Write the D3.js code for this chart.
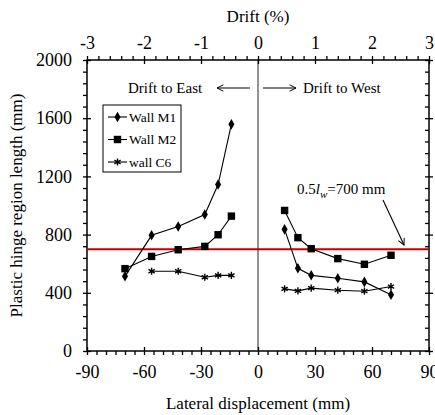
<!DOCTYPE html>
<html>
<head>
<meta charset="utf-8">
<script src="https://cdn.jsdelivr.net/npm/d3@7"></script>
<style>
  body { margin: 0; background: #fff; }
  text { font-family: "Liberation Serif", "Times New Roman", serif; fill: #000; }
</style>
</head>
<body>
<div id="chart"></div>
<script>
// displacement positions (mm)
var eastDisp = [-70, -56, -42, -28, -21, -14];
var westDisp = [14, 21, 28, 42, 56, 70];

// plastic hinge length (mm)
var m1East = [513, 795, 856, 938, 1144, 1559];
var m1West = [836, 568, 520, 500, 475, 386];
var m2East = [566, 650, 696, 719, 799, 927];
var m2West = [966, 779, 703, 635, 596, 658];
var c6EastDisp = [-56, -42, -28, -21, -14];
var c6East = [548, 548, 507, 520, 520];
var c6West = [427, 413, 432, 418, 411, 443];

var xTicks = [-90, -60, -30, 0, 30, 60, 90];
var yTicks = [0, 400, 800, 1200, 1600, 2000];
var driftTicks = [-3, -2, -1, 0, 1, 2, 3];
var limitValue = 700;

var W = 435, H = 415;
var margin = { top: 60, right: 6, bottom: 64, left: 87 };

var svg = d3.select("#chart").append("svg")
    .attr("width", W)
    .attr("height", H);

var x = d3.scaleLinear().domain([-90, 90]).range([margin.left, 429]);
var y = d3.scaleLinear().domain([0, 2000]).range([351, margin.top]);
var drift = d3.scaleLinear().domain([-3, 3]).range([margin.left, 429]);

var defs = svg.append("defs");
defs.append("marker")
    .attr("id", "head")
    .attr("viewBox", "0 0 10 10")
    .attr("refX", 9).attr("refY", 5)
    .attr("markerWidth", 8).attr("markerHeight", 8)
    .attr("orient", "auto-start-reverse")
    .attr("markerUnits", "userSpaceOnUse")
    .append("path")
    .attr("d", "M1,1 L9,5 L1,9")
    .attr("fill", "none")
    .attr("stroke", "#000")
    .attr("stroke-width", 1.2);

// centre line
svg.append("line")
    .attr("x1", x(0)).attr("x2", x(0))
    .attr("y1", y(0)).attr("y2", y(2000))
    .attr("stroke", "#6e6e6e")
    .attr("stroke-width", 1.5);

// frame
svg.append("rect")
    .attr("x", x(-90)).attr("y", y(2000))
    .attr("width", x(90) - x(-90)).attr("height", y(0) - y(2000))
    .attr("fill", "none")
    .attr("stroke", "#000")
    .attr("stroke-width", 1.5);

function crossTicks(g, vertical) {
    g.selectAll(".tick line")
        .attr(vertical ? "x1" : "y1", -4)
        .attr(vertical ? "x2" : "y2", 4);
}

function styleAxis(g) {
    g.select(".domain").remove();
    g.selectAll(".tick line").attr("stroke", "#000").attr("stroke-width", 1.3);
    g.selectAll("text")
        .style("font-family", "'Liberation Serif', 'Times New Roman', serif")
        .style("font-size", "18px")
        .attr("fill", "#000");
}

var plain = function (d) { return String(d); };

// bottom axis
var xMinor = d3.range(-90, 91, 5).filter(function (d) { return d % 30 !== 0; });
svg.append("g")
    .attr("transform", "translate(0," + y(0) + ")")
    .call(d3.axisBottom(x).tickValues(xMinor).tickSize(4).tickFormat(""))
    .call(styleAxis);
svg.append("g")
    .attr("transform", "translate(0," + y(0) + ")")
    .call(d3.axisBottom(x).tickValues(xTicks).tickSize(4).tickPadding(10).tickFormat(plain))
    .call(styleAxis)
    .call(function (g) { crossTicks(g, false); });

// top axis (drift)
var dMinor = d3.range(-3, 3.01, 0.2).filter(function (d) { return Math.abs(d - Math.round(d)) > 0.01; });
svg.append("g")
    .attr("transform", "translate(0," + y(2000) + ")")
    .call(d3.axisTop(drift).tickValues(dMinor).tickSize(4).tickFormat(""))
    .call(styleAxis);
svg.append("g")
    .attr("transform", "translate(0," + y(2000) + ")")
    .call(d3.axisTop(drift).tickValues(driftTicks).tickSize(4).tickPadding(7).tickFormat(plain))
    .call(styleAxis)
    .call(function (g) { crossTicks(g, false); });

// left axis
var yMinor = d3.range(0, 2001, 80).filter(function (d) { return d % 400 !== 0; });
svg.append("g")
    .attr("transform", "translate(" + x(-90) + ",0)")
    .call(d3.axisLeft(y).tickValues(yMinor).tickSize(4).tickFormat(""))
    .call(styleAxis);
svg.append("g")
    .attr("transform", "translate(" + x(-90) + ",0)")
    .call(d3.axisLeft(y).tickValues(yTicks).tickSize(4).tickPadding(11).tickFormat(plain))
    .call(styleAxis)
    .call(function (g) { crossTicks(g, true); });

// right axis (no labels, ticks inside)
svg.append("g")
    .attr("transform", "translate(" + x(90) + ",0)")
    .call(d3.axisLeft(y).tickValues(yMinor).tickSize(4).tickFormat(""))
    .call(styleAxis);
svg.append("g")
    .attr("transform", "translate(" + x(90) + ",0)")
    .call(d3.axisLeft(y).tickValues(yTicks).tickSize(4).tickFormat(""))
    .call(styleAxis)
    .call(function (g) { crossTicks(g, true); });

// axis titles
svg.append("text")
    .attr("x", x(0)).attr("y", 22)
    .attr("text-anchor", "middle")
    .style("font-size", "17px")
    .text("Drift (%)");

svg.append("text")
    .attr("x", x(0)).attr("y", 409)
    .attr("text-anchor", "middle")
    .style("font-size", "17px")
    .text("Lateral displacement (mm)");

svg.append("text")
    .attr("transform", "translate(22," + y(1000) + ") rotate(-90)")
    .attr("text-anchor", "middle")
    .style("font-size", "17px")
    .text("Plastic hinge region length (mm)");

// limit line
svg.append("line")
    .attr("x1", x(-90)).attr("x2", x(90))
    .attr("y1", y(limitValue)).attr("y2", y(limitValue))
    .attr("stroke", "#c00000")
    .attr("stroke-width", 2);

// series
var line = d3.line()
    .x(function (d) { return x(d[0]); })
    .y(function (d) { return y(d[1]); });

var series = [
    { name: "Wall M1", symbol: d3.symbolDiamond, size: 32, fill: true,
      parts: [d3.zip(eastDisp, m1East), d3.zip(westDisp, m1West)] },
    { name: "Wall M2", symbol: d3.symbolSquare, size: 55, fill: true,
      parts: [d3.zip(eastDisp, m2East), d3.zip(westDisp, m2West)] },
    { name: "wall C6", symbol: d3.symbolAsterisk, size: 36, fill: false,
      parts: [d3.zip(c6EastDisp, c6East), d3.zip(westDisp, c6West)] }
];

series.forEach(function (s) {
    var sym = d3.symbol().type(s.symbol).size(s.size);
    s.parts.forEach(function (pts) {
        svg.append("path")
            .attr("d", line(pts))
            .attr("fill", "none")
            .attr("stroke", "#000")
            .attr("stroke-width", 1.1);
        svg.selectAll(null)
            .data(pts)
            .enter().append("path")
            .attr("transform", function (d) { return "translate(" + x(d[0]) + "," + y(d[1]) + ")"; })
            .attr("d", sym)
            .attr("fill", s.fill ? "#000" : "none")
            .attr("stroke", "#000")
            .attr("stroke-width", s.fill ? 0 : 1.4);
    });
});

// legend
var lg = svg.append("g");
lg.append("rect")
    .attr("x", 103).attr("y", 105)
    .attr("width", 78).attr("height", 67)
    .attr("fill", "#fff")
    .attr("stroke", "#000")
    .attr("stroke-width", 1);
series.forEach(function (s, i) {
    var cy = 117 + i * 22.5;
    lg.append("line")
        .attr("x1", 108).attr("x2", 127)
        .attr("y1", cy).attr("y2", cy)
        .attr("stroke", "#000").attr("stroke-width", 1.1);
    lg.append("path")
        .attr("transform", "translate(117.5," + cy + ")")
        .attr("d", d3.symbol().type(s.symbol).size(s.size))
        .attr("fill", s.fill ? "#000" : "none")
        .attr("stroke", "#000")
        .attr("stroke-width", s.fill ? 0 : 1.4);
    lg.append("text")
        .attr("x", 129).attr("y", cy + 4.5)
        .style("font-size", "13.5px")
        .text(s.name);
});

// direction labels
svg.append("text")
    .attr("x", 128).attr("y", 93)
    .style("font-size", "15px")
    .text("Drift to East");
svg.append("line")
    .attr("x1", 250).attr("x2", 217)
    .attr("y1", 88).attr("y2", 88)
    .attr("stroke", "#000").attr("stroke-width", 1.1)
    .attr("marker-end", "url(#head)");
svg.append("line")
    .attr("x1", 263).attr("x2", 296)
    .attr("y1", 88).attr("y2", 88)
    .attr("stroke", "#000").attr("stroke-width", 1.1)
    .attr("marker-end", "url(#head)");
svg.append("text")
    .attr("x", 303).attr("y", 93)
    .style("font-size", "15px")
    .text("Drift to West");

// limit annotation
var ann = svg.append("text")
    .attr("x", 297).attr("y", 194)
    .style("font-size", "15px");
ann.append("tspan").text("0.5");
ann.append("tspan").style("font-style", "italic").text("l");
ann.append("tspan").attr("dy", 4).style("font-size", "11px").style("font-style", "italic").text("w");
ann.append("tspan").attr("dy", -4).text("=700 mm");
svg.append("line")
    .attr("x1", 383).attr("x2", 404)
    .attr("y1", 200).attr("y2", 245)
    .attr("stroke", "#000").attr("stroke-width", 1.1)
    .attr("marker-end", "url(#head)");
</script>
</body>
</html>
